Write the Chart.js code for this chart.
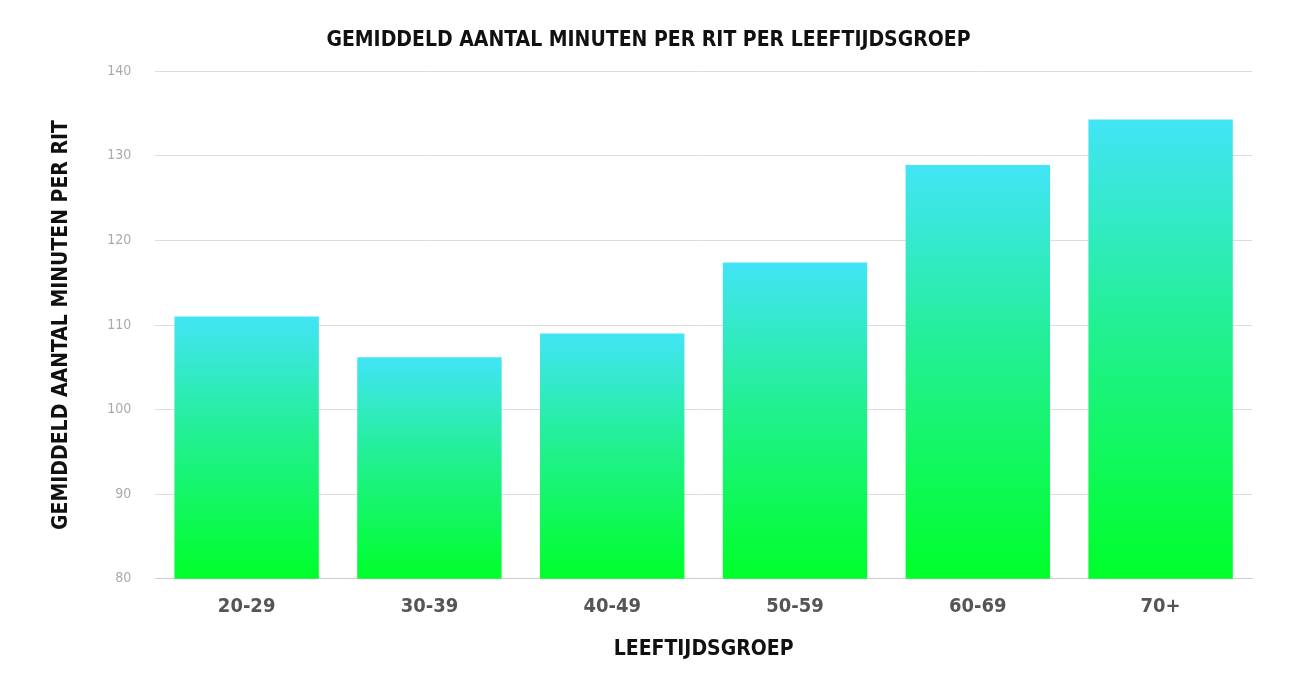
<!DOCTYPE html>
<html><head><meta charset="utf-8">
<script src="https://cdn.jsdelivr.net/npm/chart.js@4/dist/chart.umd.min.js"></script>
<style>html,body{margin:0;padding:0;background:#fff}#wrap{width:1300px;height:680px}</style>
</head><body><div id="wrap"><canvas id="c"></canvas></div>
<script>
const categories = ["20-29","30-39","40-49","50-59","60-69","70+"];
const values = [111.0, 106.2, 109.0, 117.4, 128.9, 134.3];
const yTicks = [80,90,100,110,120,130,140];
const F = "'Liberation Sans Narrow','DejaVu Sans Condensed',sans-serif";
new Chart(document.getElementById('c'), {
  type: 'bar',
  data: { labels: categories, datasets: [{ data: values,
    backgroundColor: (ctx) => {
      const ch = ctx.chart, a = ch.chartArea;
      if (!a || ctx.raw == null) return '#20f0a0';
      const top = ch.scales.y.getPixelForValue(ctx.raw);
      const g = ch.ctx.createLinearGradient(0, top, 0, a.bottom);
      g.addColorStop(0, '#42e4f6'); g.addColorStop(0.45, '#22f092'); g.addColorStop(1, '#00ff2a');
      return g;
    },
    barPercentage: 0.79, categoryPercentage: 1 }] },
  options: {
    responsive: true, maintainAspectRatio: false, animation: false,
    layout: { padding: { left: 45, right: 48, top: 18, bottom: 14 } },
    plugins: { legend: { display: false }, tooltip: { enabled: false },
      title: { display: true, text: 'GEMIDDELD AANTAL MINUTEN PER RIT PER LEEFTIJDSGROEP',
        color: '#111', font: { family: F, size: 21, weight: 'bold' }, padding: { top: 10, bottom: 18 } } },
    scales: {
      x: { grid: { display: false }, border: { color: '#ccc' },
        ticks: { color: '#555', font: { family: F, size: 20, weight: 'bold' }, padding: 8 },
        title: { display: true, text: 'LEEFTIJDSGROEP', color: '#111', font: { family: F, size: 21, weight: 'bold' }, padding: { top: 10 } } },
      y: { min: 80, max: 140, afterBuildTicks: (s) => { s.ticks = yTicks.map(v => ({ value: v })); },
        grid: { color: '#ddd', drawTicks: false }, border: { display: false },
        ticks: { color: '#aaa', font: { family: F, size: 14 }, padding: 24 },
        title: { display: true, text: 'GEMIDDELD AANTAL MINUTEN PER RIT', color: '#111', font: { family: F, size: 21, weight: 'bold' }, padding: { bottom: 9 } } }
    }
  }
});
</script></body></html>
